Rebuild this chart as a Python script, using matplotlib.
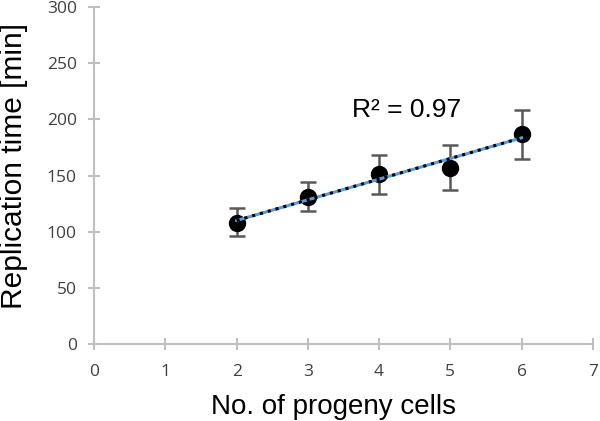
import matplotlib
matplotlib.use("Agg")
import matplotlib.pyplot as plt
import numpy as np

cells = [2, 3, 4, 5, 6]
rep_time = [108, 131, 151, 157, 187]
err_low = [12, 13, 17, 20, 22]
err_high = [13, 13, 17, 20, 21]
xticks = [0, 1, 2, 3, 4, 5, 6, 7]
yticks = [0, 50, 100, 150, 200, 250, 300]

plt.rcParams['font.family'] = ['Liberation Sans', 'DejaVu Sans']

fig = plt.figure(figsize=(6, 4.21), dpi=100)
ax = fig.add_axes([0.157, 0.183, 0.831, 0.800])

ax.errorbar(cells, rep_time, yerr=[err_low, err_high], fmt='none',
            ecolor='#595959', elinewidth=1.8, capsize=5.5, capthick=1.8, zorder=2)
ax.plot(cells, rep_time, 'o', color='black', markersize=11.5, zorder=3)

coef = np.polyfit(cells, rep_time, 1)
xl = np.array([cells[0], cells[-1]])
yl = np.polyval(coef, xl)
ax.plot(xl, yl, '-', color='#5b9bd5', lw=2.2, zorder=4)
ax.plot(xl, yl, ':', color='black', lw=2.2, zorder=5)

ax.text(3.62, 202, "R² = 0.97", fontsize=19, color='black', ha='left', va='baseline')

ax.set_xlim(0, 7)
ax.set_ylim(0, 300)
ax.set_xticks(xticks)
ax.set_yticks(yticks)
for s in ['top', 'right']:
    ax.spines[s].set_visible(False)
for s in ['left', 'bottom']:
    ax.spines[s].set_color('#bfbfbf')
    ax.spines[s].set_linewidth(1.5)
ax.tick_params(direction='inout', length=9, width=1.5, color='#bfbfbf',
               labelsize=12.5, labelcolor='#404040')
ax.tick_params(axis='x', pad=10)
ax.tick_params(axis='y', pad=8)
for lab in ax.get_xticklabels() + ax.get_yticklabels():
    lab.set_family(['Open Sans', 'DejaVu Sans'])

xlab = ax.set_xlabel("No. of progeny cells", fontsize=20)
ylab = ax.set_ylabel("Replication time [min]", fontsize=21.5)
ax.xaxis.set_label_coords(0.48, -0.187)
ax.yaxis.set_label_coords(-0.161, 0.528)
xlab.set_va('center')
ylab.set_va('center')

fig.savefig("out.png", dpi=100)
